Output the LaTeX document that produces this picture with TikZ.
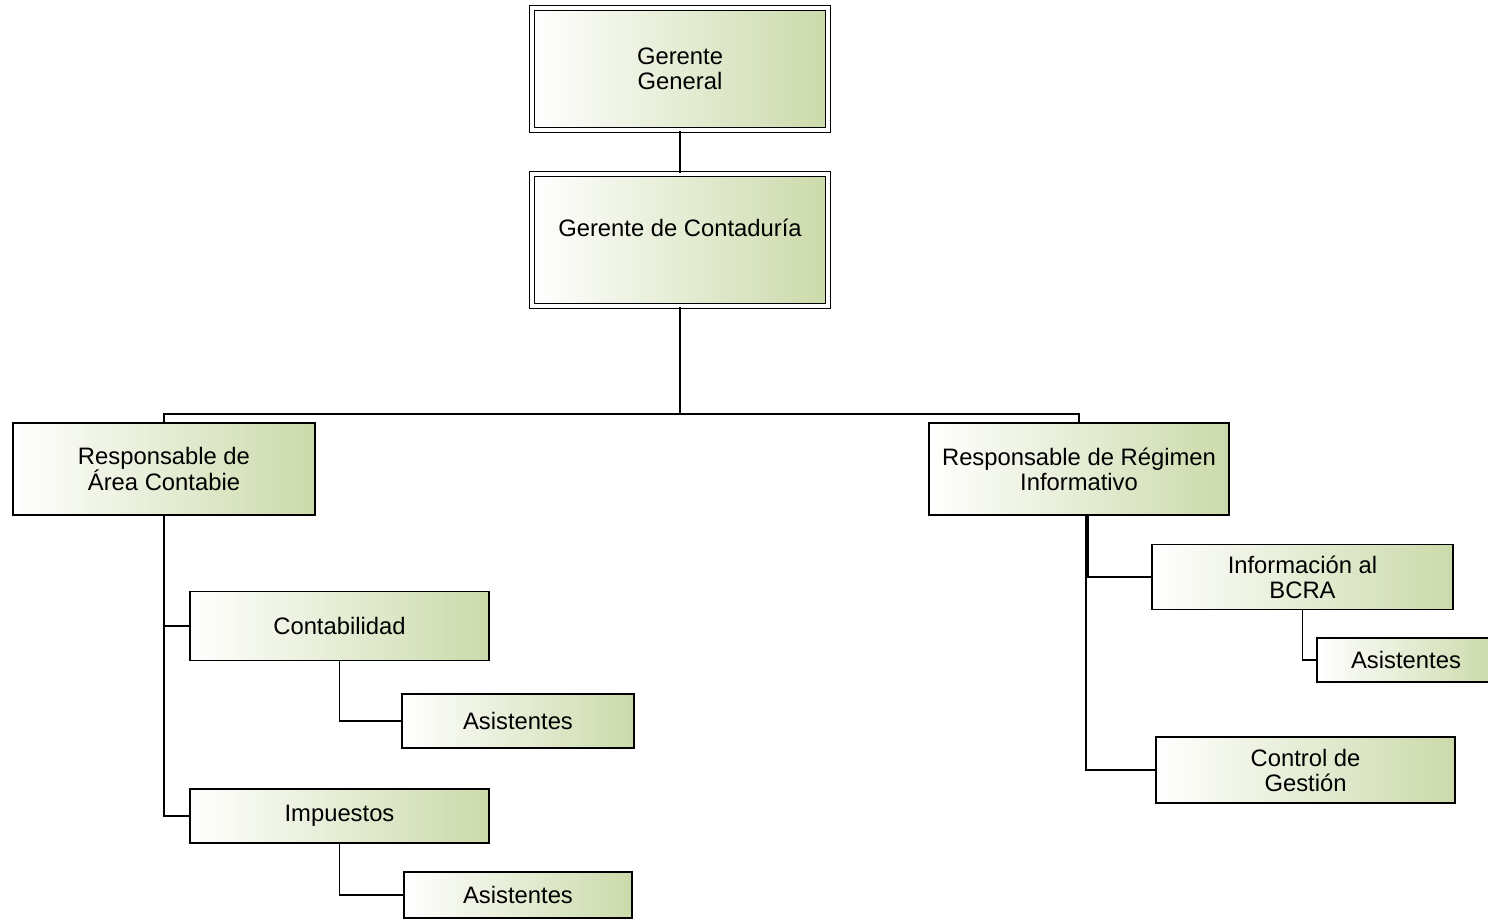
\documentclass[tikz,border=0pt]{standalone}
\usepackage{fontspec}
\setmainfont{Liberation Sans}
\usepackage{tikz}
\usetikzlibrary{positioning,calc}

\definecolor{boxgreen}{RGB}{203,218,170}

\tikzset{
  orgbox/.style={draw=black, line width=1.4pt, left color=white, right color=boxgreen,
    shading angle=90, inner sep=0pt, align=center,
    font=\fontsize{23.8}{25}\selectfont},
  topbox/.style={orgbox, double=white, double distance=3.5pt, line width=1.5pt},
  link/.style={draw=black, line width=1.8pt},
}

\begin{document}
\begin{tikzpicture}[x=1pt,y=-1pt]
  \useasboundingbox (0,0) rectangle (1488,918);

  % top of the chart
  \node[topbox, minimum width=296pt, minimum height=122pt] (gg) at (680,69) {Gerente\\General};
  \node[topbox, minimum width=296pt, minimum height=132pt] (gc) at (680,240) {Gerente de Contadur\'ia\\\mbox{}};
  \draw[link] (gg.south) -- (gc.north);

  % two areas
  \node[orgbox, minimum width=302pt, minimum height=92pt] (rac) at (164,469) {Responsable de\\\'Area Contabie};
  \node[orgbox, minimum width=300pt, minimum height=92pt] (rri) at (1079,469) {Responsable de R\'egimen\\Informativo};
  \coordinate (bus) at (680,414);
  \draw[link] (gc.south) -- (bus);
  \draw[link] (rac.north) |- (bus) -| (rri.north);

  % left branch
  \node[orgbox, minimum width=299pt, minimum height=69pt] (cont) at (339.5,626) {Contabilidad};
  \node[orgbox, minimum width=232pt, minimum height=54pt] (asis1) at (518,721) {Asistentes};
  \node[orgbox, minimum width=299pt, minimum height=54pt] (imp) at (339.5,816) {Impuestos};
  \node[orgbox, minimum width=228pt, minimum height=46pt] (asis2) at (518,895) {Asistentes};
  \draw[link] (rac.south) |- (cont.west);
  \draw[link] (rac.south) |- (imp.west);
  \draw[link] (cont.south) |- (asis1.west);
  \draw[link] (imp.south) |- (asis2.west);

  % right branch
  \node[orgbox, minimum width=301pt, minimum height=65pt] (bcra) at (1302.5,577) {Informaci\'on al\\BCRA};
  \node[orgbox, minimum width=178pt, minimum height=44pt] (asis3) at (1406,660) {Asistentes};
  \node[orgbox, minimum width=299pt, minimum height=66pt] (ctrl) at (1305.5,770) {Control de\\Gesti\'on};
  \draw[link] ([xshift=9pt]rri.south) |- (bcra.west);
  \draw[link] ([xshift=7pt]rri.south) |- (ctrl.west);
  \draw[link] (bcra.south) |- (asis3.west);
\end{tikzpicture}
\end{document}
